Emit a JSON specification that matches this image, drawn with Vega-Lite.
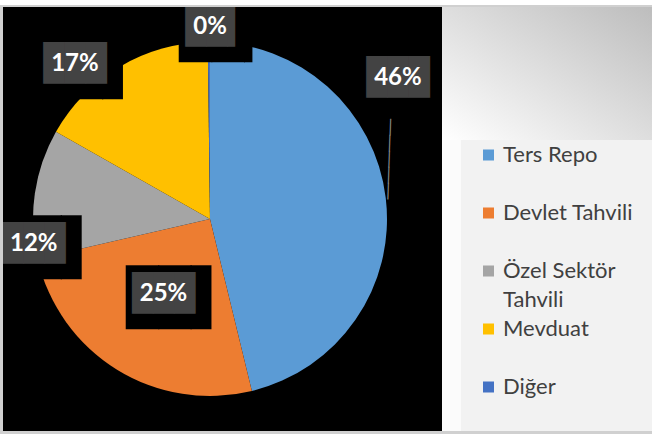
{
  "$schema": "https://vega.github.io/schema/vega-lite/v6.json",
  "background": "#d0d0d0",
  "padding": {"left": 0, "top": 0, "right": 0, "bottom": 3},
  "spacing": 2,
  "bounds": "flush",
  "config": {"view": {"stroke": null}, "style": {"guide-label": {"lineHeight": 29}}},
  "datasets": {
    "pie": [
      {"cat": "Ters Repo", "value": 46.2, "idx": 1, "label": "46%"},
      {"cat": "Devlet Tahvili", "value": 25.2, "idx": 2, "label": "25%"},
      {"cat": "Özel Sektör Tahvili", "value": 11.8, "idx": 3, "label": "12%"},
      {"cat": "Mevduat", "value": 16.6, "idx": 4, "label": "17%"},
      {"cat": "Diğer", "value": 0.2, "idx": 5, "label": "0%"}
    ]
  },
  "resolve": {"scale": {"color": "independent"}, "legend": {"color": "independent"}},
  "vconcat": [
    {
      "width": 652,
      "height": 5,
      "view": {"fill": "#ffffff", "stroke": null},
      "data": {"name": "pie"},
      "mark": {"type": "square", "opacity": 0, "clip": true}
    },
    {
      "spacing": 0,
      "bounds": "flush",
      "resolve": {"scale": {"color": "independent"}, "legend": {"color": "independent"}},
      "hconcat": [
        {
          "width": 3,
          "height": 424,
          "view": {"fill": "#d0d0d0", "stroke": null},
          "data": {"name": "pie"},
          "mark": {"type": "square", "opacity": 0, "clip": true}
        },
        {
          "width": 439,
          "height": 424,
          "view": {"fill": "#000000", "stroke": null},
          "data": {"name": "pie"},
          "encoding": {
            "theta": {"field": "value", "type": "quantitative", "stack": true},
            "order": {"field": "idx", "type": "quantitative"}
          },
          "layer": [
            {
              "mark": {"type": "arc", "outerRadius": 177, "x": 207, "clip": true},
              "encoding": {
                "color": {
                  "field": "cat", "type": "nominal",
                  "scale": {"domain": ["Ters Repo", "Devlet Tahvili", "Özel Sektör Tahvili", "Mevduat", "Diğer"], "range": ["#5B9BD5", "#ED7D31", "#A5A5A5", "#FFC000", "#4472C4"]},
                  "legend": null
                }
              }
            },
            {"mark": {"type": "text", "x": 207, "radius": 208.5, "thetaOffset": -0.403, "font": "DejaVu Sans Mono", "fontWeight": "bold", "fontSize": 14, "lineHeight": 16, "baseline": "top", "angle": 2, "dy": 6, "color": "#8a8a8a", "clip": true}, "encoding": {"text": {"condition": {"test": "datum.cat === 'Ters Repo'", "value": ["│", "│", "│", "│", "│"]}, "value": ""}}},

            {"mark": {"type": "text", "x": 207, "radius": 235, "thetaOffset": -0.525, "font": "DejaVu Sans Mono", "fontSize": 54, "color": "#000000", "dx": 11.5, "dy": 5.5, "clip": true}, "encoding": {"text": {"condition": {"test": "datum.cat === 'Ters Repo'", "value": "██▋"}, "value": ""}}},
            {"mark": {"type": "text", "x": 207, "radius": 235, "thetaOffset": -0.525, "font": "DejaVu Sans Mono", "fontSize": 35, "color": "#434343", "clip": true}, "encoding": {"text": {"condition": {"test": "datum.cat === 'Ters Repo'", "value": "███"}, "value": ""}}},
            {"mark": {"type": "text", "x": 207, "radius": 235, "thetaOffset": -0.525, "font": "Lato", "fontWeight": "bold", "fontSize": 24, "color": "#ffffff", "clip": true}, "encoding": {"text": {"condition": {"test": "datum.cat === 'Ters Repo'", "field": "label"}, "value": ""}}},

            {"mark": {"type": "text", "x": 207, "radius": 88.5, "thetaOffset": 0, "font": "DejaVu Sans Mono", "fontSize": 54, "color": "#000000", "dx": 11.5, "dy": 5.5, "clip": true}, "encoding": {"text": {"condition": {"test": "datum.cat === 'Devlet Tahvili'", "value": "██▋"}, "value": ""}}},
            {"mark": {"type": "text", "x": 207, "radius": 88.5, "thetaOffset": 0, "font": "DejaVu Sans Mono", "fontSize": 35, "color": "#434343", "clip": true}, "encoding": {"text": {"condition": {"test": "datum.cat === 'Devlet Tahvili'", "value": "███"}, "value": ""}}},
            {"mark": {"type": "text", "x": 207, "radius": 88.5, "thetaOffset": 0, "font": "Lato", "fontWeight": "bold", "fontSize": 24, "color": "#ffffff", "clip": true}, "encoding": {"text": {"condition": {"test": "datum.cat === 'Devlet Tahvili'", "field": "label"}, "value": ""}}},

            {"mark": {"type": "text", "x": 207, "radius": 178, "thetaOffset": -0.286, "font": "DejaVu Sans Mono", "fontSize": 54, "color": "#000000", "dx": 11.5, "dy": 5.5, "clip": true}, "encoding": {"text": {"condition": {"test": "datum.cat === 'Özel Sektör Tahvili'", "value": "██▋"}, "value": ""}}},
            {"mark": {"type": "text", "x": 207, "radius": 178, "thetaOffset": -0.286, "font": "DejaVu Sans Mono", "fontSize": 35, "color": "#434343", "clip": true}, "encoding": {"text": {"condition": {"test": "datum.cat === 'Özel Sektör Tahvili'", "value": "███"}, "value": ""}}},
            {"mark": {"type": "text", "x": 207, "radius": 178, "thetaOffset": -0.286, "font": "Lato", "fontWeight": "bold", "fontSize": 24, "color": "#ffffff", "clip": true}, "encoding": {"text": {"condition": {"test": "datum.cat === 'Özel Sektör Tahvili'", "field": "label"}, "value": ""}}},

            {"mark": {"type": "text", "x": 207, "radius": 205.5, "thetaOffset": -0.183, "font": "DejaVu Sans Mono", "fontSize": 54, "color": "#000000", "dx": 11.5, "dy": 5.5, "clip": true}, "encoding": {"text": {"condition": {"test": "datum.cat === 'Mevduat'", "value": "██▋"}, "value": ""}}},
            {"mark": {"type": "text", "x": 207, "radius": 205.5, "thetaOffset": -0.183, "font": "DejaVu Sans Mono", "fontSize": 35, "color": "#434343", "clip": true}, "encoding": {"text": {"condition": {"test": "datum.cat === 'Mevduat'", "value": "███"}, "value": ""}}},
            {"mark": {"type": "text", "x": 207, "radius": 205.5, "thetaOffset": -0.183, "font": "Lato", "fontWeight": "bold", "fontSize": 24, "color": "#ffffff", "clip": true}, "encoding": {"text": {"condition": {"test": "datum.cat === 'Mevduat'", "field": "label"}, "value": ""}}},

            {"mark": {"type": "text", "x": 207, "radius": 192, "thetaOffset": 0.007, "font": "DejaVu Sans Mono", "fontSize": 54, "color": "#000000", "dx": 18, "dy": 5.5, "clip": true}, "encoding": {"text": {"condition": {"test": "datum.cat === 'Diğer'", "value": "██▎"}, "value": ""}}},
            {"mark": {"type": "text", "x": 207, "radius": 192, "thetaOffset": 0.007, "font": "DejaVu Sans Mono", "fontSize": 35, "color": "#434343", "dx": 6.6, "clip": true}, "encoding": {"text": {"condition": {"test": "datum.cat === 'Diğer'", "value": "██▍"}, "value": ""}}},
            {"mark": {"type": "text", "x": 207, "radius": 192, "thetaOffset": 0.007, "font": "Lato", "fontWeight": "bold", "fontSize": 24, "color": "#ffffff", "clip": true}, "encoding": {"text": {"condition": {"test": "datum.cat === 'Diğer'", "field": "label"}, "value": ""}}}
          ]
        },
        {
          "spacing": 0,
          "bounds": "flush",
          "vconcat": [
            {
              "width": 210,
              "height": 133,
              "view": {
                "fill": {"gradient": "linear", "x1": 0, "y1": 1, "x2": 1, "y2": 0, "stops": [{"offset": 0, "color": "#ffffff"}, {"offset": 1, "color": "#bdbdbd"}]},
                "stroke": null
              },
              "data": {"name": "pie"},
              "mark": {"type": "square", "opacity": 0, "clip": true}
            },
            {
              "spacing": 0,
              "bounds": "flush",
              "hconcat": [
                {
                  "width": 19,
                  "height": 291,
                  "view": {"fill": "#fbfbfb", "stroke": null},
                  "data": {"name": "pie"},
                  "mark": {"type": "square", "opacity": 0, "clip": true}
                },
                {
                  "width": 191,
                  "height": 291,
                  "view": {"fill": "#f2f2f2", "stroke": null},
                  "data": {"name": "pie"},
                  "mark": {"type": "square", "opacity": 0, "clip": true},
                  "encoding": {
                    "color": {
                      "field": "cat", "type": "nominal",
                      "scale": {"domain": ["Ters Repo", "Devlet Tahvili", "Özel Sektör Tahvili", "Mevduat", "Diğer"], "range": ["#5B9BD5", "#ED7D31", "#A5A5A5", "#FFC000", "#4472C4"]},
                      "legend": {
                        "orient": "none", "legendX": 19, "legendY": 137, "title": null,
                        "padding": 0,
                        "symbolOffset": 16.5, "symbolType": "square", "symbolSize": 121,
                        "symbolStrokeWidth": 0, "symbolOpacity": 1,
                        "labelFont": "Lato", "labelFontSize": 22, "labelColor": "#404040", "labelOffset": 3.5,
                        "rowPadding": 7, "labelLimit": 300,
                        "labelExpr": "datum.label == 'Özel Sektör Tahvili' ? ['Özel Sektör', 'Tahvili'] : [datum.label, ' ']"
                      }
                    }
                  }
                }
              ]
            }
          ]
        }
      ]
    }
  ]
}
